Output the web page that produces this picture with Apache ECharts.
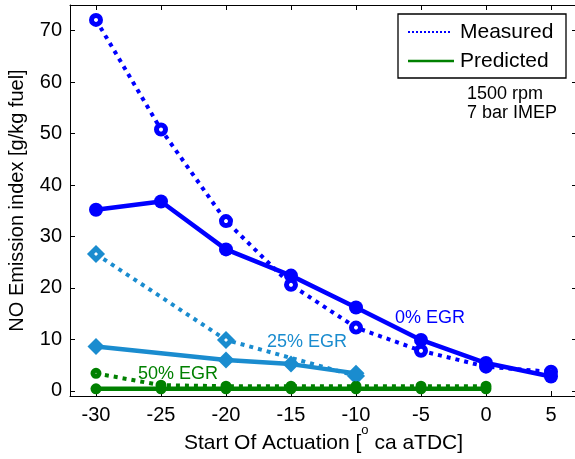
<!DOCTYPE html>
<html>
<head>
<meta charset="utf-8">
<script src="https://cdn.jsdelivr.net/npm/echarts@6/dist/echarts.min.js"></script>
<style>
html,body{margin:0;padding:0;background:#fff;}
#c{width:575px;height:459px;}
</style>
</head>
<body>
<div id="c"></div>
<script>
// ---- data ----
var xs = [-30, -25, -20, -15, -10, -5, 0, 5];
var egr0Measured  = [72.1, 50.8, 33.0, 20.6, 12.3, 7.8, 4.7, 3.7];
var egr0Predicted = [35.2, 36.8, 27.5, 22.4, 16.2, 9.9, 5.4, 2.8];
var egr25Measured  = [26.6, null, 9.9, null, 2.9, null, null, null];
var egr25Predicted = [8.6, null, 6.0, 5.2, 3.4, null, null, null];
var egr50Measured  = [3.4, 1.1, 0.9, 0.9, 0.9, 0.9, 0.9, null];
var egr50Predicted = [0.4, 0.4, 0.4, 0.4, 0.4, 0.4, 0.4, null];
var xTickLabels = ['-30', '-25', '-20', '-15', '-10', '-5', '0', '5'];
var yTickLabels = ['0', '10', '20', '30', '40', '50', '60', '70'];

var BLUE = '#0000ff', LBLUE = '#1a8ccf', GREEN = '#008000';
var FONT = '"Liberation Sans", Arial, Helvetica, sans-serif';

function pairs(ys) {
  var out = [];
  for (var i = 0; i < xs.length; i++) {
    if (ys[i] !== null && ys[i] !== undefined) out.push([xs[i], ys[i]]);
  }
  return out;
}

function measured(name, ys, color, symbol, size) {
  return {
    name: name, type: 'line', data: pairs(ys),
    symbol: symbol, symbolSize: size,
    lineStyle: {color: color, width: 4, type: [4, 5], cap: 'butt'},
    itemStyle: {color: '#fff', borderColor: color, borderWidth: 5},
    z: 3, animation: false
  };
}
function predicted(name, ys, color, symbol, size) {
  return {
    name: name, type: 'line', data: pairs(ys),
    symbol: symbol, symbolSize: size,
    lineStyle: {color: color, width: 4.5},
    itemStyle: {color: color, borderWidth: 0},
    z: 4, animation: false
  };
}

var chart = echarts.init(document.getElementById('c'), null, {renderer: 'canvas'});

var axisCommon = {
  axisLine: {show: true, onZero: false, lineStyle: {color: '#000', width: 1}},
  axisTick: {show: true, inside: true, length: 5, lineStyle: {color: '#000', width: 1}},
  splitLine: {show: false}
};

chart.setOption({
  animation: false,
  backgroundColor: '#fff',
  grid: {left: 70, right: -2, top: 5, bottom: 63, containLabel: false, outerBoundsMode: 'none'},
  xAxis: [
    Object.assign({
      type: 'value', min: -32, max: 7, minInterval: 5, maxInterval: 5, position: 'bottom',
      name: '{n|Start Of Actuation [}{sup|o}{n| ca aTDC]}', nameLocation: 'middle', nameGap: 28,
      nameMoveOverlap: false,
      nameTextStyle: {fontFamily: FONT, fontSize: 21, color: '#000',
        rich: {
          n: {fontFamily: FONT, fontSize: 21, color: '#000', lineHeight: 30, verticalAlign: 'bottom'},
          sup: {fontFamily: FONT, fontSize: 13, color: '#000', lineHeight: 10, verticalAlign: 'top'}
        }},
      axisLabel: {show: true, fontFamily: FONT, fontSize: 20, color: '#000', margin: 9,
        showMinLabel: false, showMaxLabel: false,
        formatter: function (v) { var i = xs.indexOf(v); return i >= 0 ? xTickLabels[i] : ''; }}
    }, axisCommon),
    Object.assign({
      type: 'value', min: -32, max: 7, minInterval: 5, maxInterval: 5, position: 'top',
      axisLabel: {show: false}
    }, axisCommon)
  ],
  yAxis: [
    Object.assign({
      type: 'value', min: -1, max: 75, minInterval: 10, maxInterval: 10, position: 'left',
      name: 'NO Emission index [g/kg fuel]', nameLocation: 'middle', nameGap: 43,
      nameMoveOverlap: false,
      nameTextStyle: {fontFamily: FONT, fontSize: 20, color: '#000'},
      axisLabel: {show: true, fontFamily: FONT, fontSize: 20, color: '#000', margin: 8,
        showMinLabel: false, showMaxLabel: false,
        formatter: function (v) { var i = v / 10; return (i >= 0 && i < yTickLabels.length && i === Math.round(i)) ? yTickLabels[i] : ''; }}
    }, axisCommon),
    Object.assign({
      type: 'value', min: -1, max: 75, minInterval: 10, maxInterval: 10, position: 'right',
      axisLabel: {show: false}
    }, axisCommon)
  ],
  series: [
    measured('Measured 0%', egr0Measured, BLUE, 'circle', 9),
    predicted('Predicted 0%', egr0Predicted, BLUE, 'circle', 14),
    Object.assign(measured('Measured 25%', egr25Measured, LBLUE, 'diamond', 11), {connectNulls: true}),
    Object.assign(predicted('Predicted 25%', egr25Predicted, LBLUE, 'diamond', 17), {connectNulls: true}),
    measured('Measured 50%', egr50Measured, GREEN, 'circle', 6),
    predicted('Predicted 50%', egr50Predicted, GREEN, 'circle', 11)
  ],
  graphic: [
    {type: 'rect', shape: {x: 398, y: 14, width: 168, height: 64}, style: {fill: '#fff', stroke: '#000', lineWidth: 1.3}, z: 100},
    {type: 'line', shape: {x1: 408, y1: 32, x2: 452, y2: 32}, style: {stroke: BLUE, lineWidth: 2, lineDash: [2, 2]}, z: 101},
    {type: 'line', shape: {x1: 408, y1: 61, x2: 454, y2: 61}, style: {stroke: GREEN, lineWidth: 2.5}, z: 101},
    {type: 'text', x: 460, y: 32, style: {text: 'Measured', font: '21px ' + FONT, fill: '#000', textVerticalAlign: 'middle'}, z: 101},
    {type: 'text', x: 460, y: 61, style: {text: 'Predicted', font: '21px ' + FONT, fill: '#000', textVerticalAlign: 'middle'}, z: 101},
    {type: 'text', x: 467, y: 94, style: {text: '1500 rpm', font: '18px ' + FONT, fill: '#000', textVerticalAlign: 'middle'}, z: 101},
    {type: 'text', x: 467, y: 113, style: {text: '7 bar IMEP', font: '18px ' + FONT, fill: '#000', textVerticalAlign: 'middle'}, z: 101},
    {type: 'text', x: 395, y: 318, style: {text: '0% EGR', font: '18px ' + FONT, fill: BLUE, textVerticalAlign: 'middle'}, z: 101},
    {type: 'text', x: 267, y: 342, style: {text: '25% EGR', font: '18px ' + FONT, fill: LBLUE, textVerticalAlign: 'middle'}, z: 101},
    {type: 'text', x: 138, y: 374, style: {text: '50% EGR', font: '18px ' + FONT, fill: GREEN, textVerticalAlign: 'middle'}, z: 101}
  ]
});
</script>
</body>
</html>
